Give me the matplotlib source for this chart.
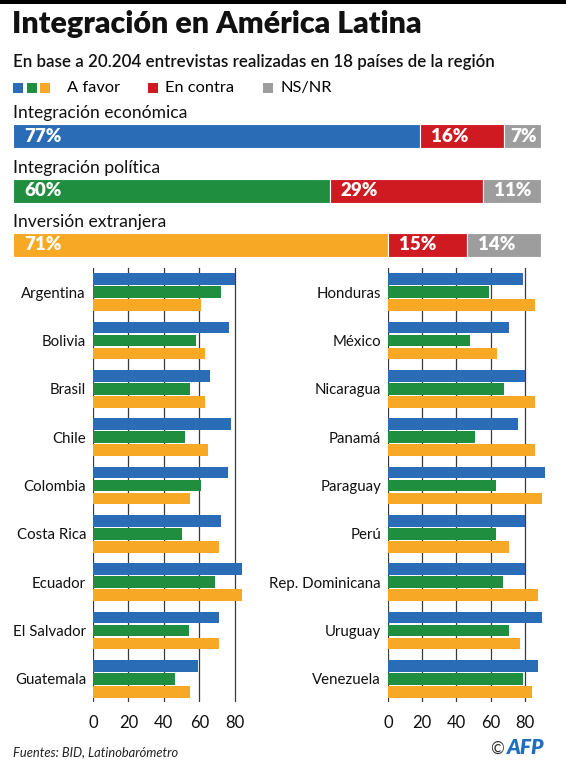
import matplotlib
matplotlib.use("Agg")
import matplotlib.pyplot as plt
from matplotlib.patches import Rectangle

plt.rcParams['font.family'] = ['Lato', 'DejaVu Sans']

# ---------------- data ----------------
summary_labels = ["Integración económica", "Integración política", "Inversión extranjera"]
favor = [77, 60, 71]
contra = [16, 29, 15]
nsnr = [7, 11, 14]

countries_left = ["Argentina", "Bolivia", "Brasil", "Chile", "Colombia",
                  "Costa Rica", "Ecuador", "El Salvador", "Guatemala"]
econ_left = [80, 77, 66, 78, 76, 72, 84, 71, 59]
pol_left = [72, 58, 55, 52, 61, 50, 69, 54, 46]
inv_left = [61, 63, 63, 65, 55, 71, 84, 71, 55]

countries_right = ["Honduras", "México", "Nicaragua", "Panamá", "Paraguay",
                   "Perú", "Rep. Dominicana", "Uruguay", "Venezuela"]
econ_right = [79, 71, 80, 76, 92, 80, 80, 90, 88]
pol_right = [59, 48, 68, 51, 63, 63, 67, 71, 79]
inv_right = [86, 64, 86, 86, 90, 71, 88, 77, 84]

ticks = [0, 20, 40, 60, 80]

title = "Integración en América Latina"
subtitle = "En base a 20.204 entrevistas realizadas en 18 países de la región"
source = "Fuentes: BID, Latinobarómetro"

# ---------------- style ----------------
BLUE = "#2b6cb6"
GREEN = "#1f8e3f"
ORANGE = "#f7a825"
RED = "#d01a22"
GRAY = "#9d9d9d"
favor_colors = [BLUE, GREEN, ORANGE]

W, H = 566, 768
fig = plt.figure(figsize=(W / 100, H / 100), dpi=100)
fig.patch.set_facecolor("white")


def px_axes(x0, y0, x1, y1):
    return fig.add_axes([x0 / W, 1 - y1 / H, (x1 - x0) / W, (y1 - y0) / H])


def ftext(x, y, s, **kw):
    return fig.text(x / W, 1 - y / H, s, **kw)


# top black band
fig.patches.append(Rectangle((0, 1 - 4 / H), 1, 4 / H, transform=fig.transFigure,
                             facecolor="black", edgecolor="none"))

ftext(12, 24, title, fontsize=21.9, fontweight="heavy", va="center", ha="left", color="#111111")
ftext(13, 62, subtitle, fontsize=12.2, fontweight="semibold", va="center", ha="left", color="#111111")

# legend
for i, c in enumerate(favor_colors):
    fig.patches.append(Rectangle(((13 + i * 13.5) / W, 1 - 93 / H), 10 / W, 10 / H,
                                 transform=fig.transFigure, facecolor=c, edgecolor="none"))
ftext(67, 88, "A favor", fontsize=11.8, va="center", ha="left")
fig.patches.append(Rectangle((148 / W, 1 - 93 / H), 10 / W, 10 / H,
                             transform=fig.transFigure, facecolor=RED, edgecolor="none"))
ftext(165, 88, "En contra", fontsize=11.8, va="center", ha="left")
fig.patches.append(Rectangle((263 / W, 1 - 93 / H), 10 / W, 10 / H,
                             transform=fig.transFigure, facecolor=GRAY, edgecolor="none"))
ftext(281, 88, "NS/NR", fontsize=11.8, va="center", ha="left")

# ---------------- summary stacked bars ----------------
ax = px_axes(13, 100, 541, 260)
ax.set_xlim(0, 100)
ax.set_ylim((260 - 136) / 54.5, (100 - 136) / 54.5)
ax.axis("off")
ypos = list(range(len(summary_labels)))
bh = 24 / 54.5
for i in ypos:
    segs = [(favor[i], favor_colors[i]), (contra[i], RED), (nsnr[i], GRAY)]
    left = 0
    for v, c in segs:
        ax.barh(i, v, left=left, height=bh, color=c, edgecolor="white", linewidth=0.8)
        off = 11 if v >= 10 else 6
        ax.annotate(f"{v}%", xy=(left, i), xytext=(off * 0.72, 0), textcoords="offset points",
                    va="center", ha="left", color="white", fontsize=13.5, fontweight="heavy")
        left += v
    ax.text(0, i - 23 / 54.5, summary_labels[i], va="center", ha="left",
            fontsize=12.6, color="#111111")

# ---------------- small multiples ----------------
def panel(x0, x1, xmax, names, econ, pol, inv):
    a = px_axes(x0, 268, x1, 702)
    a.set_xlim(0, xmax)
    a.set_ylim(8.48, -0.5)
    off = 13 / 48.35
    h = 11.7 / 48.35
    for t in ticks:
        a.axvline(t, color="#3a3a3a", linewidth=0.9, zorder=0)
    idx = list(range(len(names)))
    a.barh([j - off for j in idx], econ, height=h, color=BLUE, zorder=2)
    a.barh(idx, pol, height=h, color=GREEN, zorder=2)
    a.barh([j + off for j in idx], inv, height=h, color=ORANGE, zorder=2)
    a.set_yticks(idx)
    a.set_yticklabels(names, fontsize=10.8, color="#111111")
    a.set_xticks(ticks)
    a.set_xticklabels([str(t) for t in ticks], fontsize=12, color="#111111")
    a.tick_params(axis="both", length=0)
    a.tick_params(axis="y", pad=5)
    a.tick_params(axis="x", pad=9)
    for s in a.spines.values():
        s.set_visible(False)
    return a


panel(93, 256, 92, countries_left, econ_left, pol_left, inv_left)
panel(388, 547, 93, countries_right, econ_right, pol_right, inv_right)

# ---------------- footer ----------------
ftext(13, 752, source, fontsize=9.3, fontstyle="italic", va="center", ha="left", color="#222222")
ftext(490, 749, "©", fontsize=12, va="center", ha="left", color="#333333")
ftext(507, 748, "AFP", fontsize=15, fontweight="heavy", fontstyle="italic",
      va="center", ha="left", color="#1f6fc0")

fig.savefig("out.png", dpi=100, facecolor="white")
